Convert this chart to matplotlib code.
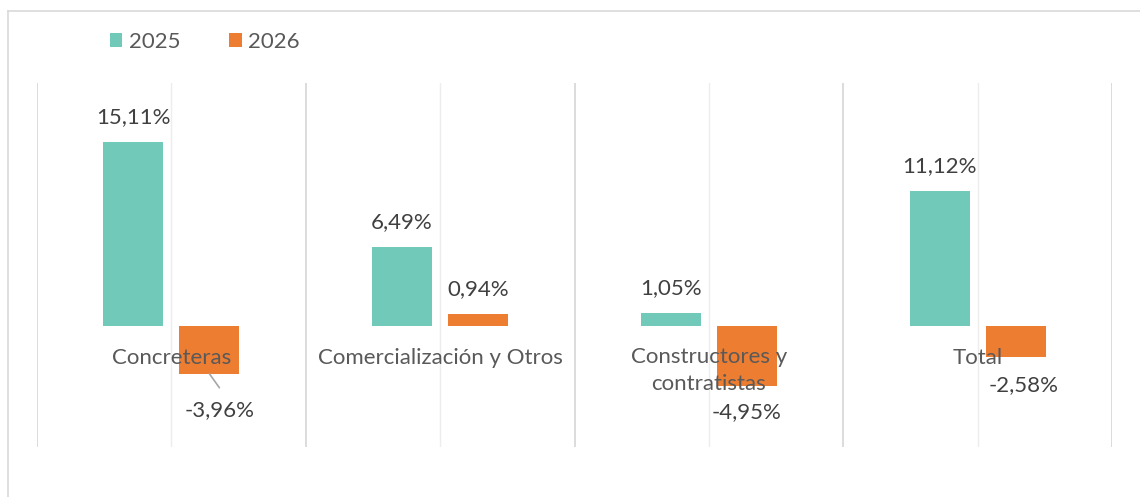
import matplotlib
matplotlib.use("Agg")
import matplotlib.pyplot as plt
from matplotlib.lines import Line2D
import numpy as np

categories = ["Concreteras", "Comercialización y Otros", "Constructores y\ncontratistas", "Total"]
series_names = ["2025", "2026"]
values_2025 = [15.11, 6.49, 1.05, 11.12]
values_2026 = [-3.96, 0.94, -4.95, -2.58]
labels_2025 = ["15,11%", "6,49%", "1,05%", "11,12%"]
labels_2026 = ["-3,96%", "0,94%", "-4,95%", "-2,58%"]

colors = ["#70C9B9", "#ED7D31"]
label_color = "#404040"
cat_color = "#595959"
font = ["Lato", "DejaVu Sans"]
plt.rcParams["font.family"] = font

fig = plt.figure(figsize=(11.4, 4.97), dpi=100)
W, H = 1140, 497
ax = fig.add_axes([37 / W, 1 - 447 / H, (1112 - 37) / W, (447 - 83) / H])
ax.set_xlim(-0.5, len(categories) - 0.5)
ax.set_ylim(-10, 20)
for s in ax.spines.values():
    s.set_visible(False)
ax.set_xticks([])
ax.set_yticks([])

# gridlines
for b in np.arange(len(categories) + 1) - 0.5:
    ax.axvline(b, color="#D9D9D9", lw=1.3, zorder=0)
for c in range(len(categories)):
    ax.axvline(c, color="#EDEDED", lw=1.0, zorder=0)

x = np.arange(len(categories))
bw = 0.223
off = 0.1414
b1 = ax.bar(x - off, values_2025, bw, color=colors[0], label=series_names[0], zorder=2)
b2 = ax.bar(x + off, values_2026, bw, color=colors[1], label=series_names[1], zorder=2)

fs = 16
pt = 72 / 100  # points per pixel

# category labels
for i, name in enumerate(categories):
    if "\n" in name:
        ax.annotate(name, (i, 0), xytext=(0, -21 * pt), textcoords="offset points",
                    ha="center", va="top", fontsize=fs, color=cat_color,
                    linespacing=1.45, zorder=4)
    else:
        ax.annotate(name, (i, 0), xytext=(0, -38 * pt), textcoords="offset points",
                    ha="center", va="baseline", fontsize=fs, color=cat_color,
                    zorder=4)

# 2025 labels
for i, (v, t) in enumerate(zip(values_2025, labels_2025)):
    ax.annotate(t, (i - off, v), xytext=(0, 25 * pt), textcoords="offset points",
                ha="center", va="center", fontsize=fs, color=label_color, zorder=5)

# 2026 labels (pixel offsets)
offs_2026 = [(10, -36), (0, 25), (0, -26), (8, -28)]
for i, (v, t) in enumerate(zip(values_2026, labels_2026)):
    dx, dy = offs_2026[i]
    ax.annotate(t, (i + off, v), xytext=(dx * pt, dy * pt), textcoords="offset points",
                ha="center", va="center", fontsize=fs, color=label_color, zorder=5)

# leader line for first negative label
ax.annotate("", xy=(0 + off, values_2026[0]), xytext=(10 * pt, -14 * pt),
            textcoords=("offset points"),
            arrowprops=dict(arrowstyle="-", color="#A6A6A6", lw=1.2,
                            shrinkA=0, shrinkB=0), zorder=3)

# legend
fig.legend(handles=[b1, b2], labels=series_names, loc="center left",
           bbox_to_anchor=(110 / W, 1 - 42 / H), ncol=2, frameon=False,
           fontsize=fs, handlelength=0.55, handleheight=0.55,
           handletextpad=0.3, columnspacing=2.2, labelcolor=cat_color,
           borderaxespad=0, borderpad=0)

# chart border (left and top visible)
fig.add_artist(Line2D([7.5 / W, 7.5 / W], [0, 1 - 11 / H], transform=fig.transFigure,
                      color="#D9D9D9", lw=1.2))
fig.add_artist(Line2D([7.5 / W, 1], [1 - 11 / H, 1 - 11 / H], transform=fig.transFigure,
                      color="#D9D9D9", lw=1.2))

fig.savefig("out.png", dpi=100)
